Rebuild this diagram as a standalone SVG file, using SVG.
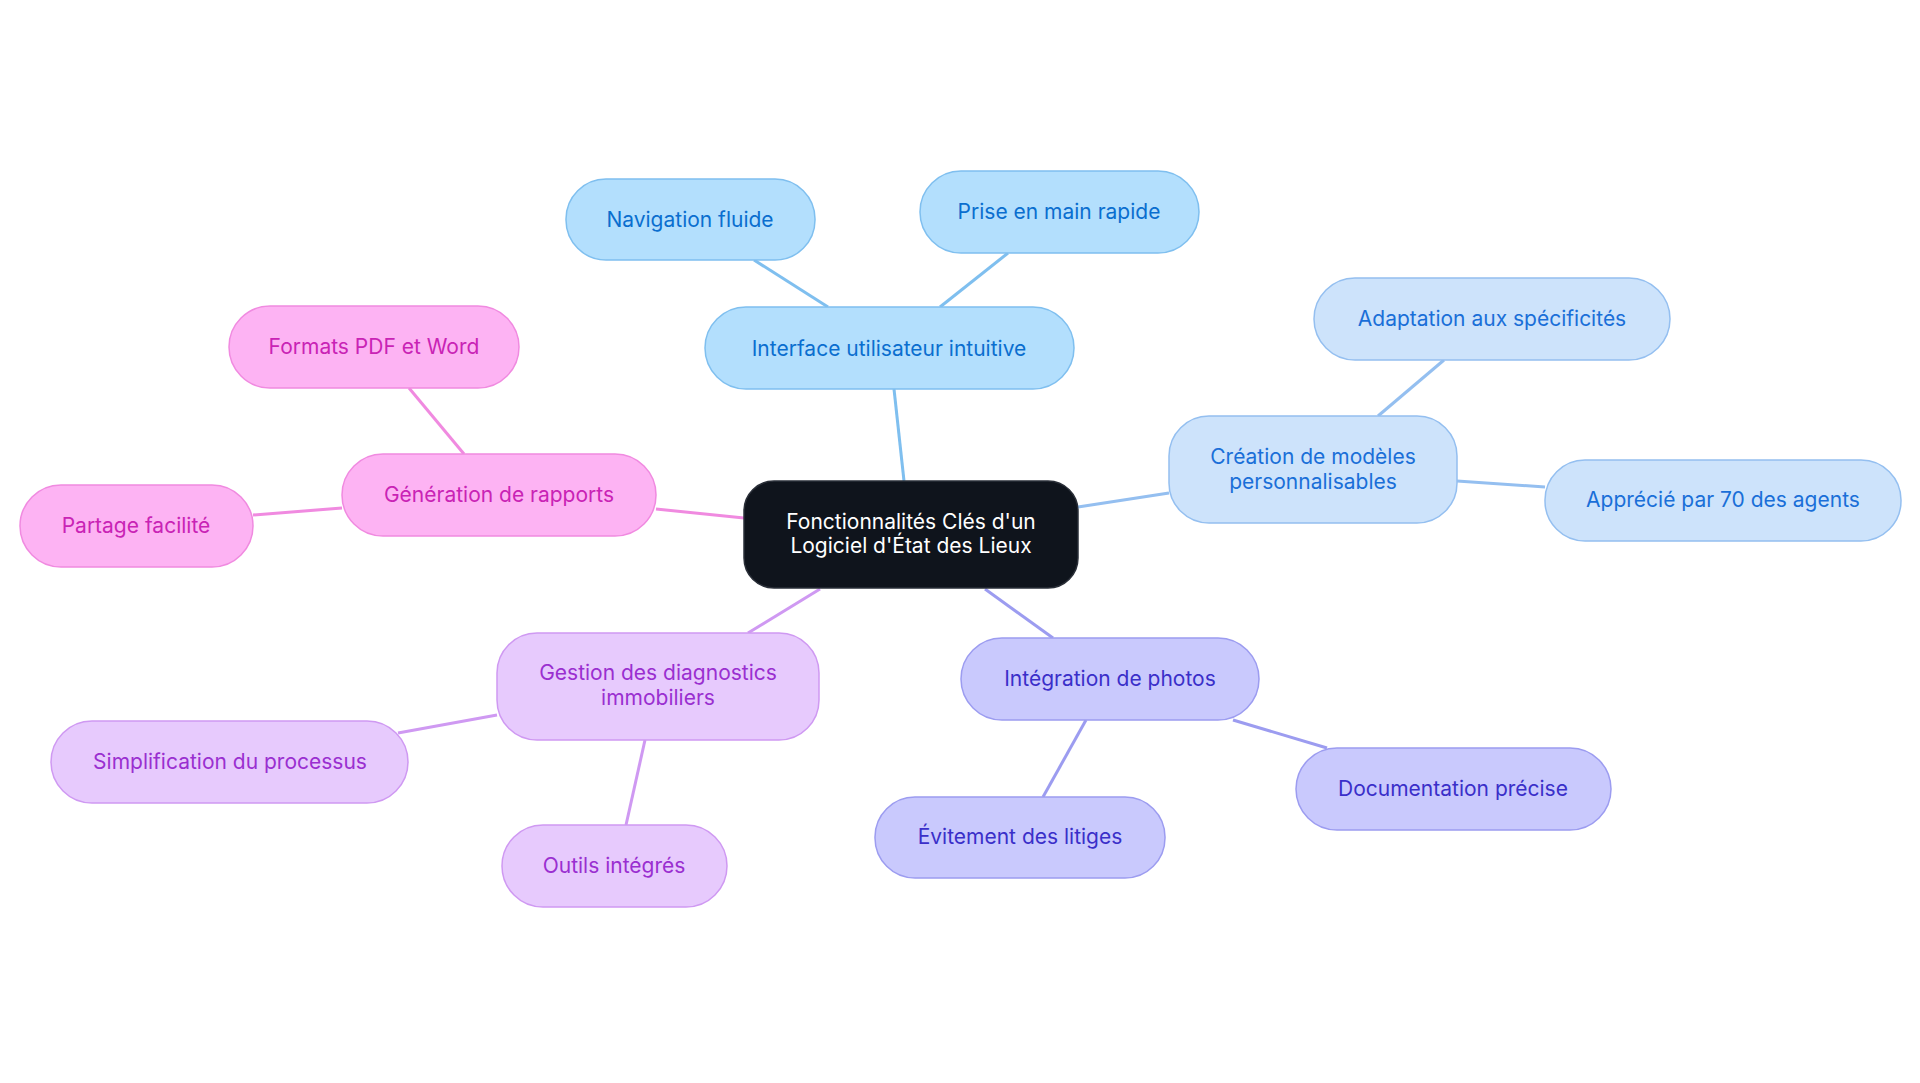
<svg xmlns="http://www.w3.org/2000/svg" width="1920" height="1083" viewBox="0 0 1920 1083">
<style>
text{font-family:Inter,"Liberation Sans",sans-serif;font-size:21px;text-anchor:middle;dominant-baseline:central}
rect{stroke-width:1.5}
.a rect{fill:#b3dffd;stroke:#7fbfef}.a text{fill:#0a6ecf}
.b rect{fill:#cde3fb;stroke:#94bff0}.b text{fill:#1a6fd8}
.c rect{fill:#c9c9fd;stroke:#9c9cf0}.c text{fill:#3a2fc9}
.d rect{fill:#e7cafd;stroke:#cf99f2}.d text{fill:#9a2fd0}
.e rect{fill:#fdb3f3;stroke:#f08ae0}.e text{fill:#c923b5}
#edges line{stroke-width:3;fill:none}
</style>
<rect width="1920" height="1083" fill="#fff"/>
<g id="edges">
<line x1="904" y1="481" x2="894" y2="389" stroke="#7fbfef"/>
<line x1="828" y1="307" x2="754" y2="260" stroke="#7fbfef"/>
<line x1="940" y1="307" x2="1008" y2="253" stroke="#7fbfef"/>
<line x1="1078" y1="507" x2="1169" y2="493" stroke="#94bff0"/>
<line x1="1378" y1="416" x2="1444" y2="360" stroke="#94bff0"/>
<line x1="1457" y1="481" x2="1545" y2="487" stroke="#94bff0"/>
<line x1="985" y1="589" x2="1053" y2="638" stroke="#9c9cf0"/>
<line x1="1233" y1="720" x2="1327" y2="748" stroke="#9c9cf0"/>
<line x1="1086" y1="720" x2="1043" y2="797" stroke="#9c9cf0"/>
<line x1="820" y1="589" x2="748" y2="633" stroke="#cf99f2"/>
<line x1="497" y1="715" x2="398" y2="733" stroke="#cf99f2"/>
<line x1="645" y1="740" x2="626" y2="825" stroke="#cf99f2"/>
<line x1="744" y1="518" x2="656" y2="509" stroke="#f08ae0"/>
<line x1="464" y1="454" x2="409" y2="388" stroke="#f08ae0"/>
<line x1="342" y1="508" x2="253" y2="515" stroke="#f08ae0"/>
</g>
<g id="center"><rect x="744" y="481" width="334" height="107" rx="30" fill="#0f141c" stroke="#2a2f38"/><text x="911" y="521" fill="#fff">Fonctionnalités Clés d'un</text><text x="911" y="545" fill="#fff">Logiciel d'État des Lieux</text></g>
<g id="interface" class="a"><rect x="705" y="307" width="369" height="82" rx="41"/><text x="889" y="348">Interface utilisateur intuitive</text></g>
<g id="navigation" class="a"><rect x="566" y="179" width="249" height="81" rx="40"/><text x="690" y="219">Navigation fluide</text></g>
<g id="prise" class="a"><rect x="920" y="171" width="279" height="82" rx="41"/><text x="1059" y="211">Prise en main rapide</text></g>
<g id="creation" class="b"><rect x="1169" y="416" width="288" height="107" rx="40"/><text x="1313" y="456">Création de modèles</text><text x="1313" y="481">personnalisables</text></g>
<g id="adaptation" class="b"><rect x="1314" y="278" width="356" height="82" rx="41"/><text x="1492" y="318">Adaptation aux spécificités</text></g>
<g id="apprecie" class="b"><rect x="1545" y="460" width="356" height="81" rx="40"/><text x="1723" y="499">Apprécié par 70 des agents</text></g>
<g id="integration" class="c"><rect x="961" y="638" width="298" height="82" rx="41"/><text x="1110" y="678">Intégration de photos</text></g>
<g id="documentation" class="c"><rect x="1296" y="748" width="315" height="82" rx="41"/><text x="1453" y="788">Documentation précise</text></g>
<g id="evitement" class="c"><rect x="875" y="797" width="290" height="81" rx="40"/><text x="1020" y="836">Évitement des litiges</text></g>
<g id="gestion" class="d"><rect x="497" y="633" width="322" height="107" rx="40"/><text x="658" y="672">Gestion des diagnostics</text><text x="658" y="697">immobiliers</text></g>
<g id="simplification" class="d"><rect x="51" y="721" width="357" height="82" rx="41"/><text x="230" y="761">Simplification du processus</text></g>
<g id="outils" class="d"><rect x="502" y="825" width="225" height="82" rx="41"/><text x="614" y="865">Outils intégrés</text></g>
<g id="generation" class="e"><rect x="342" y="454" width="314" height="82" rx="41"/><text x="499" y="494">Génération de rapports</text></g>
<g id="formats" class="e"><rect x="229" y="306" width="290" height="82" rx="41"/><text x="374" y="346">Formats PDF et Word</text></g>
<g id="partage" class="e"><rect x="20" y="485" width="233" height="82" rx="41"/><text x="136" y="525">Partage facilité</text></g>
</svg>
